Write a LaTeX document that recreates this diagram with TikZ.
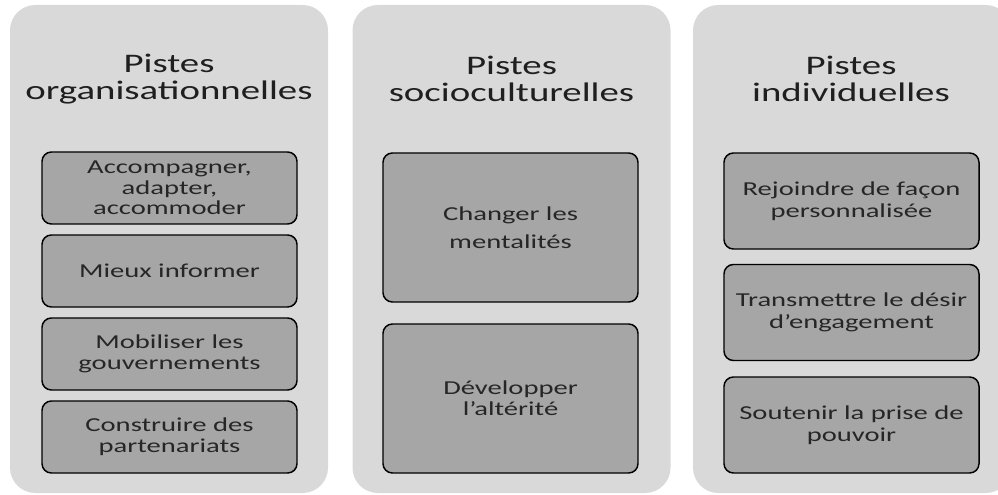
\documentclass[tikz,border=0pt]{standalone}
\usepackage{fontspec}
\setmainfont[FakeStretch=1.45]{Carlito}

\begin{document}
\begin{tikzpicture}[
                x=0.75pt, y=-0.75pt,
                panel/.style={fill=gray!30, rounded corners=19pt, minimum width=238.5pt, minimum height=366pt, inner sep=0pt, outer sep=0pt},
                title/.style={align=center, font=\fontsize{20.1}{20.25}\selectfont, text=black!88},
                piste/.style={draw=black, line width=1.1pt, fill=black!35, rounded corners=7pt, minimum width=191.25pt, inner sep=0pt, align=center, font=\fontsize{14.8}{15.5}\selectfont, text=black!85}
            ]
                \clip[use as bounding box] (0,0) rectangle (998,495);
                % panels
                \node[panel] (org) at (169,249) {};
                \node[panel] (soc) at (511.5,249) {};
                \node[panel] (ind) at (852,249) {};
                \node[title] (orgtitle) at (169,79) {Pistes\\organisationnelles};
                \node[title] (soctitle) at (511.5,79) {Pistes\\socioculturelles};
                \node[title] (indtitle) at (851,79) {Pistes\\individuelles};
                % organisationnelles
                \node[piste, minimum height=54pt] (accompagner) at (169.5,188) {Accompagner,\\adapter,\\accommoder};
                \node[piste, minimum height=54pt] (informer) at (169.5,271) {Mieux informer};
                \node[piste, minimum height=54pt] (mobiliser) at (169.5,354) {Mobiliser les\\gouvernements};
                \node[piste, minimum height=54pt] (construire) at (169.5,437) {Construire des\\partenariats};
                % socioculturelles
                \node[piste, minimum height=111.75pt, font=\fontsize{14.8}{21}\selectfont] (changer) at (510.5,227.5) {Changer les\\mentalités};
                \node[piste, minimum height=111.75pt] (developper) at (510.5,398.5) {Développer\\l’altérité};
                % individuelles
                \node[piste, minimum height=72pt, font=\fontsize{14.8}{16.5}\selectfont] (rejoindre) at (851.5,201) {Rejoindre de façon\\personnalisée};
                \node[piste, minimum height=72pt, font=\fontsize{14.8}{16.5}\selectfont] (transmettre) at (851.5,312.5) {Transmettre le désir\\d’engagement};
                \node[piste, minimum height=72pt, font=\fontsize{14.8}{16.5}\selectfont] (soutenir) at (851.5,425) {Soutenir la prise de\\pouvoir};
            \end{tikzpicture}
\end{document}
